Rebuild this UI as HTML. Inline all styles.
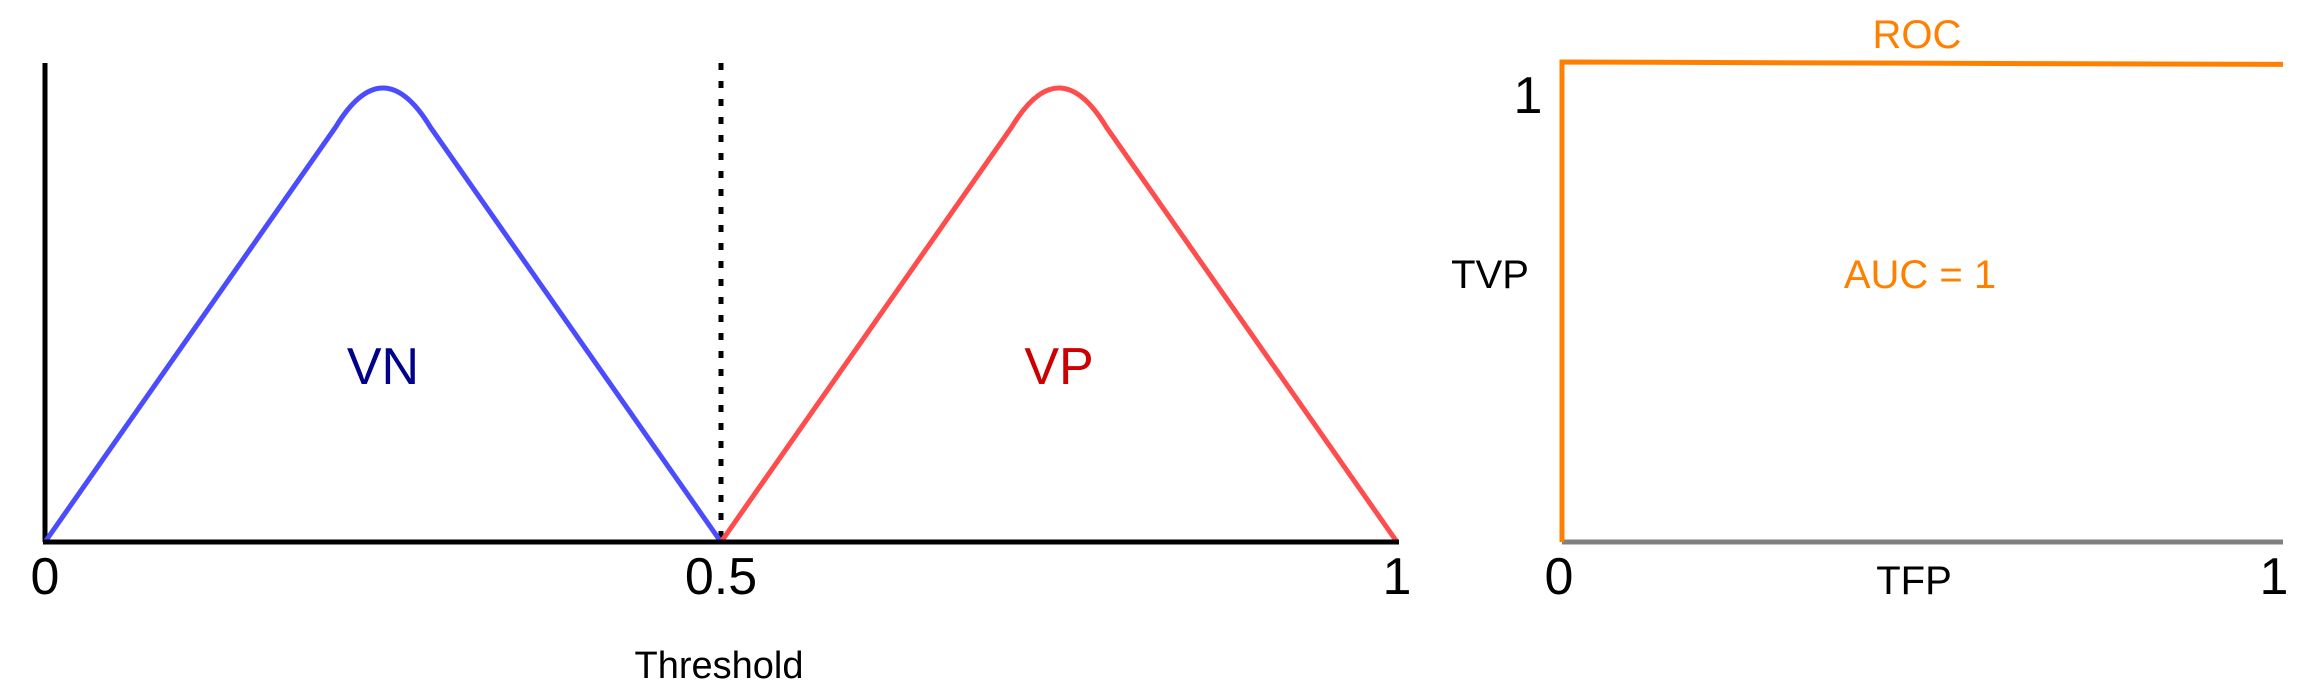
<!DOCTYPE html>
<html><head><meta charset="utf-8"><style>
html,body{margin:0;padding:0;background:#fff;width:2316px;height:696px;overflow:hidden}
svg{display:block;font-family:"Liberation Sans",sans-serif}
</style></head><body>
<svg id="chart" width="2316" height="696" viewBox="0 0 2316 696" xmlns="http://www.w3.org/2000/svg"></svg>
<script>
// Left chart data (distributions over threshold)
const vnX = [0, 0.215, 0.25, 0.285, 0.5];
const vnY = [0, 0.914, 1.086, 0.914, 0];
const vpX = [0.5, 0.715, 0.75, 0.785, 1.0];
const vpY = [0, 0.914, 1.086, 0.914, 0];
const thresholdValue = [0.5];
const xTickValues = [0, 0.5, 1];
const xTickLabels = ["0", "0.5", "1"];
// ROC data
const rocX = [0, 0, 1];
const rocY = [0, 1, 0.995];
const rocTickLabels = ["0", "1"];
const aucLabel = ["AUC = 1"];

const NS = "http://www.w3.org/2000/svg";
const svg = document.getElementById('chart');
function mk(tag, attrs, parent){ const e=document.createElementNS(NS,tag); for(const k in attrs) e.setAttribute(k,attrs[k]); (parent||svg).appendChild(e); return e; }

const L = {x0:45, x1:1397, yb:542, yt:88};
const lx = v => L.x0 + v*(L.x1-L.x0);
const ly = v => L.yb - v*(L.yb-L.yt);
const R = {x0:1562, x1:2283, yb:542, yt:62};
const rx = v => R.x0 + v*(R.x1-R.x0);
const ry = v => R.yb - v*(R.yb-R.yt);

function densityPath(xs, ys){
  // straight flanks, quadratic rounding at the peak (index 2 is the control point)
  return `M${lx(xs[0])},${ly(ys[0])} L${lx(xs[1])},${ly(ys[1])} Q${lx(xs[2])},${ly(ys[2])} ${lx(xs[3])},${ly(ys[3])} L${lx(xs[4])},${ly(ys[4])}`;
}

let e = mk('line',{x1:L.x0,y1:63,x2:L.x0,y2:L.yb,stroke:'#000','stroke-width':5});
 

e = mk('line',{x1:lx(thresholdValue[0]),y1:63,x2:lx(thresholdValue[0]),y2:L.yb,stroke:'#000','stroke-width':5,'stroke-dasharray':'7 11'});
 

e = mk('path',{d:densityPath(vnX,vnY),fill:'none',stroke:'#4c4cff','stroke-width':5,'stroke-linejoin':'round'});
 
e = mk('path',{d:densityPath(vpX,vpY),fill:'none',stroke:'#ff4c4c','stroke-width':5,'stroke-linejoin':'round'});
 

e = mk('line',{x1:L.x0-2,y1:L.yb,x2:L.x1+2,y2:L.yb,stroke:'#000','stroke-width':5});
 

xTickValues.forEach((v,i)=>{
  const t = mk('text',{x:lx(v),y:594,'font-size':52,'text-anchor':'middle',fill:'#000'});
  t.textContent = xTickLabels[i];
   
});
e = mk('text',{x:719,y:678,'font-size':38,'text-anchor':'middle',fill:'#000'}); e.textContent='Threshold';
 
e = mk('text',{x:lx(0.25),y:384,'font-size':52,'text-anchor':'middle',fill:'#00008b'}); e.textContent='VN';
 
e = mk('text',{x:lx(0.75),y:384,'font-size':52,'text-anchor':'middle',fill:'#cc0000'}); e.textContent='VP';
 

e = mk('line',{x1:R.x0,y1:R.yb,x2:R.x1,y2:R.yb,stroke:'#808080','stroke-width':5});
 
e = mk('polyline',{points:rocX.map((v,i)=>rx(v)+','+ry(rocY[i])).join(' '),fill:'none',stroke:'#ff8000','stroke-width':5});
 

e = mk('text',{x:1917,y:48,'font-size':40,'text-anchor':'middle',fill:'#ff8000'}); e.textContent='ROC';
 
e = mk('text',{x:1528,y:113,'font-size':52,'text-anchor':'middle',fill:'#000'}); e.textContent=rocTickLabels[1];
 
e = mk('text',{x:1490,y:288,'font-size':40,'text-anchor':'middle',fill:'#000'}); e.textContent='TVP';
 
e = mk('text',{x:1920,y:288,'font-size':40,'text-anchor':'middle',fill:'#ff8000'}); e.textContent=aucLabel[0];
 
e = mk('text',{x:rx(0)-3,y:594,'font-size':52,'text-anchor':'middle',fill:'#000'}); e.textContent=rocTickLabels[0];
 
e = mk('text',{x:rx(1)-9,y:594,'font-size':52,'text-anchor':'middle',fill:'#000'}); e.textContent=rocTickLabels[1];
 
e = mk('text',{x:1914,y:594,'font-size':40,'text-anchor':'middle',fill:'#000'}); e.textContent='TFP';
 
</script>
</body></html>
